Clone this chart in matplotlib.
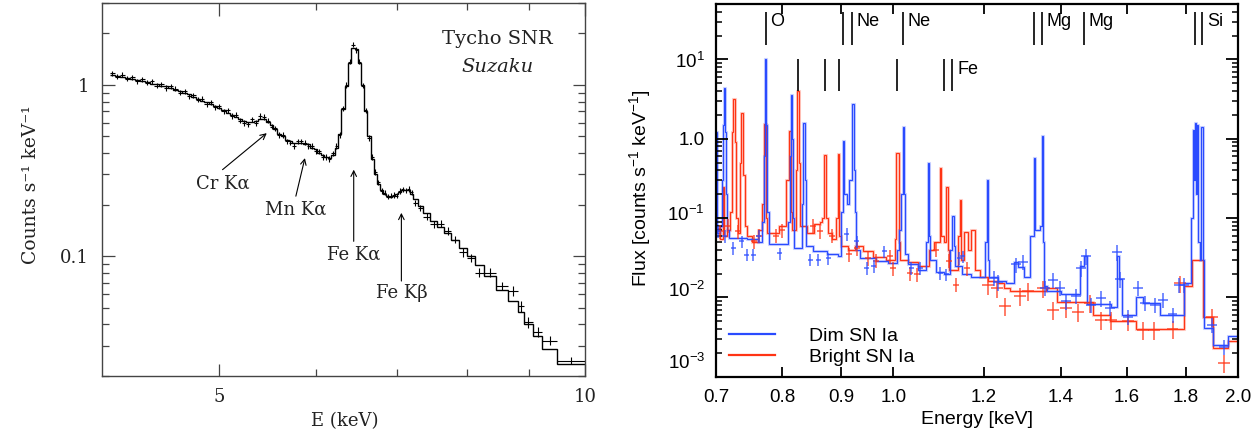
import numpy as np
import matplotlib
matplotlib.use('Agg')
import matplotlib.pyplot as plt
from matplotlib.ticker import FixedLocator, FixedFormatter, NullFormatter, NullLocator, LogLocator
from matplotlib.transforms import ScaledTranslation
from matplotlib.lines import Line2D

plt.rcParams['mathtext.fontset'] = 'custom'
plt.rcParams['mathtext.rm'] = 'Liberation Sans'
plt.rcParams['mathtext.it'] = 'Liberation Sans:italic'
plt.rcParams['mathtext.bf'] = 'Liberation Sans:bold'

# ---------------- Left panel data: Tycho SNR, Suzaku ----------------
left_E = [4.08, 4.12, 4.16, 4.20, 4.24, 4.28, 4.32, 4.36, 4.40, 4.44, 4.48, 4.52,
          4.56, 4.60, 4.64, 4.68, 4.72, 4.76, 4.80, 4.84, 4.88, 4.92, 4.96, 5.00,
          5.04, 5.08, 5.12, 5.16, 5.20, 5.24, 5.28, 5.32, 5.36, 5.40, 5.44, 5.48,
          5.52, 5.56, 5.60, 5.64, 5.68, 5.72, 5.76, 5.80, 5.84, 5.88, 5.92, 5.96,
          6.00, 6.04, 6.08, 6.12, 6.16, 6.20, 6.24, 6.28, 6.32, 6.36, 6.40, 6.44,
          6.48, 6.52, 6.56, 6.60, 6.64, 6.68, 6.72, 6.76, 6.80, 6.84, 6.88, 6.92,
          6.96, 7.00, 7.04, 7.08, 7.12, 7.16, 7.20,
          7.25, 7.32, 7.41, 7.51, 7.61, 7.71, 7.82, 7.94, 8.06, 8.185, 8.35, 8.545,
          8.72, 8.85, 8.98, 9.14, 9.355, 9.745]
left_hw = [0.02] * 79 + [0.03, 0.04, 0.05, 0.05, 0.05, 0.05, 0.06, 0.06, 0.06, 0.065,
                         0.10, 0.095, 0.08, 0.05, 0.08, 0.08, 0.135, 0.255]
left_model = [1.14, 1.13, 1.12, 1.10, 1.09, 1.07, 1.06, 1.04, 1.02, 1.01, 0.99, 0.98,
              0.96, 0.94, 0.92, 0.90, 0.88, 0.85, 0.83, 0.81, 0.79, 0.77, 0.75, 0.73,
              0.71, 0.69, 0.67, 0.65, 0.63, 0.62, 0.61, 0.61, 0.62, 0.63, 0.63, 0.61,
              0.58, 0.55, 0.52, 0.50, 0.48, 0.47, 0.46, 0.46, 0.46, 0.455, 0.45, 0.43,
              0.42, 0.40, 0.39, 0.38, 0.375, 0.39, 0.43, 0.52, 0.72, 0.98, 1.35, 1.65,
              1.62, 1.35, 1.00, 0.70, 0.50, 0.37, 0.30, 0.265, 0.245, 0.232, 0.225, 0.222,
              0.224, 0.23, 0.237, 0.243, 0.245, 0.242, 0.232,
              0.215, 0.195, 0.178, 0.16, 0.147, 0.136, 0.124, 0.111, 0.10, 0.089, 0.077, 0.063,
              0.055, 0.047, 0.040, 0.034, 0.0285, 0.0234]
left_data = [1.17, 1.12, 1.15, 1.09, 1.11, 1.05, 1.08, 1.03, 1.05, 0.99, 1.01, 0.96,
             0.98, 0.95, 0.90, 0.92, 0.86, 0.87, 0.82, 0.83, 0.77, 0.79, 0.74, 0.75,
             0.70, 0.71, 0.66, 0.67, 0.62, 0.60, 0.59, 0.63, 0.60, 0.66, 0.65, 0.62,
             0.57, 0.56, 0.51, 0.51, 0.47, 0.46, 0.44, 0.47, 0.47, 0.46, 0.44, 0.44,
             0.41, 0.41, 0.38, 0.38, 0.37, 0.40, 0.44, 0.51, 0.73, 1.00, 1.37, 1.72,
             1.60, 1.37, 0.99, 0.71, 0.49, 0.38, 0.31, 0.27, 0.24, 0.235, 0.222, 0.226,
             0.228, 0.226, 0.24, 0.246, 0.242, 0.247, 0.236,
             0.205, 0.19, 0.17, 0.153, 0.155, 0.14, 0.125, 0.105, 0.098, 0.08, 0.08, 0.067,
             0.0625, 0.051, 0.041, 0.036, 0.032, 0.0245]
left_relerr = [0.035] * 79 + [0.04, 0.04, 0.045, 0.045, 0.05, 0.05, 0.05, 0.055, 0.055, 0.06,
                              0.06, 0.06, 0.065, 0.07, 0.07, 0.07, 0.06, 0.05]

left_annot_text = ['Cr Kα', 'Mn Kα', 'Fe Kα', 'Fe Kβ']
left_annot_head = [(5.47, 0.523), (5.88, 0.374), (6.45, 0.32), (7.06, 0.179)]
left_annot_tail = [(5.03, 0.32), (5.78, 0.224), (6.45, 0.122), (7.06, 0.0715)]
left_annot_pos = [(5.03, 0.267), (5.78, 0.187), (6.45, 0.102), (7.06, 0.061)]

# ---------------- Right panel data: SN Ia models ----------------
blue_edges = [0.700, 0.7012, 0.706, 0.709, 0.7105, 0.7112, 0.7125, 0.7135, 0.715, 0.718,
              0.745, 0.762, 0.768, 0.7705, 0.7722, 0.7745, 0.776, 0.778, 0.8095, 0.8125,
              0.8138, 0.8162, 0.8175, 0.819, 0.832, 0.8345, 0.8375, 0.839, 0.85, 0.875,
              0.895, 0.9005, 0.903, 0.906, 0.910, 0.914, 0.9195, 0.923, 0.925, 0.928,
              0.935, 0.965, 0.99, 1.008, 1.012, 1.016, 1.0185, 1.022, 1.0245, 1.03,
              1.05, 1.068, 1.071, 1.0745, 1.077, 1.09, 1.108, 1.12, 1.125, 1.1285,
              1.132, 1.148, 1.168, 1.203, 1.206, 1.2095, 1.212, 1.235, 1.255, 1.2735,
              1.285, 1.30, 1.315, 1.326, 1.3305, 1.343, 1.3475, 1.3515, 1.355, 1.362,
              1.40, 1.44, 1.455, 1.466, 1.476, 1.52, 1.55, 1.567, 1.5745, 1.585,
              1.6285, 1.651, 1.708, 1.7925, 1.818, 1.826, 1.829, 1.8335, 1.8375, 1.8425,
              1.8465, 1.852, 1.8575, 1.862, 1.866, 1.9015, 1.9606, 2.0]
blue_flux = [1.2, 0.065, 0.08, 0.3, 1.5, 4.4, 1.2, 0.2, 0.07, 0.056,
             0.054, 0.05, 0.09, 0.6, 10.0, 1.5, 0.12, 0.047, 0.09, 0.6,
             3.6, 1.0, 0.1, 0.042, 0.15, 1.6, 0.3, 0.045, 0.038, 0.035,
             0.033, 0.12, 0.94, 0.2, 0.15, 0.3, 2.75, 0.4, 0.12, 0.04,
             0.031, 0.029, 0.027, 0.04, 0.07, 0.2, 1.42, 0.2, 0.035, 0.026,
             0.022, 0.05, 0.49, 0.06, 0.03, 0.021, 0.02, 0.04, 0.106, 0.045,
             0.025, 0.02, 0.018, 0.05, 0.3, 0.03, 0.018, 0.016, 0.015, 0.028,
             0.024, 0.018, 0.06, 0.58, 0.07, 0.08, 1.09, 0.05, 0.014, 0.012,
             0.011, 0.011, 0.025, 0.033, 0.0083, 0.0083, 0.0075, 0.033, 0.017, 0.006,
             0.0102, 0.0085, 0.006, 0.015, 0.1, 1.3, 0.3, 1.6, 0.2, 1.5,
             0.05, 0.03, 1.4, 0.03, 0.0041, 0.0025, 0.0033]

red_edges = [0.700, 0.705, 0.7095, 0.7115, 0.715, 0.7205, 0.7225, 0.7245, 0.7265, 0.7285,
             0.731, 0.734, 0.7365, 0.7395, 0.7415, 0.745, 0.752, 0.762, 0.768, 0.7705,
             0.7735, 0.776, 0.795, 0.806, 0.811, 0.8135, 0.816, 0.822, 0.8245, 0.8275,
             0.829, 0.84, 0.852, 0.862, 0.867, 0.8705, 0.8735, 0.877, 0.884, 0.891,
             0.894, 0.897, 0.90, 0.912, 0.925, 0.94, 0.96, 0.985, 1.003, 1.006,
             1.0115, 1.014, 1.03, 1.05, 1.075, 1.085, 1.098, 1.1015, 1.106, 1.1115,
             1.115, 1.119, 1.138, 1.143, 1.1465, 1.152, 1.162, 1.168, 1.178, 1.19,
             1.21, 1.235, 1.25, 1.265, 1.30, 1.335, 1.36, 1.389, 1.493, 1.5457,
             1.6285, 1.7925, 1.8215, 1.8634, 1.9015, 1.9606, 2.0]
red_flux = [0.075, 0.055, 0.25, 0.06, 0.07, 0.12, 1.2, 3.2, 0.9, 0.1,
            0.065, 0.5, 2.1, 0.35, 0.08, 0.06, 0.05, 0.07, 0.15, 1.55,
            0.1, 0.065, 0.08, 0.3, 1.24, 0.12, 0.07, 0.4, 4.0, 0.5,
            0.08, 0.065, 0.085, 0.09, 0.1, 0.63, 0.1, 0.065, 0.055, 0.1,
            0.65, 0.06, 0.045, 0.04, 0.045, 0.038, 0.032, 0.03, 0.055, 0.67,
            0.05, 0.03, 0.028, 0.025, 0.04, 0.05, 0.43, 0.06, 0.05, 0.25,
            0.04, 0.022, 0.06, 0.17, 0.03, 0.066, 0.04, 0.07, 0.022, 0.018,
            0.016, 0.015, 0.013, 0.012, 0.012, 0.012, 0.013, 0.0088, 0.006, 0.005,
            0.004, 0.014, 0.03, 0.0057, 0.0023, 0.0028]

blue_pts_E = [0.703, 0.712, 0.7247, 0.737, 0.7445, 0.7546, 0.763, 0.796, 0.8457, 0.860,
              0.877, 0.9105, 0.929, 0.948, 0.961, 0.982, 1.037, 1.055, 1.099, 1.112,
              1.142, 1.15, 1.223, 1.235, 1.28, 1.299, 1.357, 1.379, 1.397, 1.416,
              1.445, 1.459, 1.472, 1.488, 1.517, 1.547, 1.568, 1.578, 1.604, 1.636,
              1.658, 1.691, 1.719, 1.753, 1.776, 1.794, 1.898, 1.943]
blue_pts_F = [0.068, 0.060, 0.042, 0.051, 0.0347, 0.0347, 0.06, 0.036, 0.030, 0.030,
              0.031, 0.063, 0.051, 0.0235, 0.025, 0.038, 0.0235, 0.0235, 0.0204, 0.0195,
              0.0315, 0.033, 0.0176, 0.0155, 0.026, 0.028, 0.0132, 0.0168, 0.0132, 0.0089,
              0.0105, 0.0235, 0.033, 0.0081, 0.0098, 0.0074, 0.037, 0.017, 0.0057, 0.0132,
              0.0086, 0.0081, 0.0094, 0.0061, 0.0145, 0.0145, 0.0045, 0.0024]
red_pts_E = [0.705, 0.717, 0.732, 0.755, 0.763, 0.79, 0.80, 0.8505, 0.862, 0.883,
             0.914, 0.93, 0.95, 0.965, 0.993, 1.0, 1.034, 1.049, 1.09, 1.118,
             1.134, 1.16, 1.21, 1.232, 1.251, 1.29, 1.31, 1.35, 1.379, 1.416,
             1.45, 1.485, 1.517, 1.55, 1.604, 1.653, 1.69, 1.753, 1.78, 1.898, 1.943]
red_pts_F = [0.068, 0.08, 0.068, 0.051, 0.06, 0.06, 0.07, 0.08, 0.068, 0.06,
             0.035, 0.042, 0.031, 0.029, 0.033, 0.0235, 0.0204, 0.0195, 0.04, 0.029,
             0.0145, 0.0235, 0.0145, 0.013, 0.0078, 0.0105, 0.012, 0.013, 0.0069, 0.0074,
             0.0066, 0.0086, 0.0052, 0.0052, 0.005, 0.0039, 0.0039, 0.004, 0.015, 0.0057, 0.0015]

upper_lines = [0.7735, 0.9037, 0.9203, 1.0196, 1.327, 1.348, 1.4658, 1.834, 1.861]
upper_label_E = [0.7735, 0.9203, 1.0196, 1.348, 1.4658, 1.861]
upper_labels = ['O', 'Ne', 'Ne', 'Mg', 'Mg', 'Si']
lower_lines = [0.825, 0.8711, 0.896, 1.0067, 1.107, 1.126]
lower_label_E = [1.126]
lower_labels = ['Fe']

right_xticks = [0.7, 0.8, 0.9, 1.0, 1.2, 1.4, 1.6, 1.8, 2.0]
right_xticklabels = ['0.7', '0.8', '0.9', '1.0', '1.2', '1.4', '1.6', '1.8', '2.0']
right_yticks = [1e-3, 1e-2, 1e-1, 1.0, 10.0]
right_yticklabels = [r'$10^{-3}$', r'$10^{-2}$', r'$10^{-1}$', '1.0', r'$10^{1}$']
legend_labels = ['Dim SN Ia', 'Bright SN Ia']

BLUE = '#2a4bff'
RED = '#ff3414'
SERIF = ['DejaVu Serif', 'DejaVu Sans']
SANS = 'Liberation Sans'

fig = plt.figure(figsize=(12.6, 4.33), dpi=100)
axL = fig.add_axes([0.0807, 0.1323, 0.3836, 0.860])
axR = fig.add_axes([0.5683, 0.130, 0.4143, 0.8607])

# ---------------- Left panel ----------------
E = np.array(left_E)
hw = np.array(left_hw)
edges = np.append(E - hw, E[-1] + hw[-1])
axL.stairs(left_model, edges, baseline=None, color='black', lw=1.0)
d = np.array(left_data)
axL.errorbar(E, d, xerr=hw, yerr=d * np.array(left_relerr), fmt='none',
             ecolor='black', elinewidth=0.8)
axL.set_xscale('log')
axL.set_yscale('log')
axL.set_xlim(4, 10)
axL.set_ylim(0.02, 3)
axL.xaxis.set_major_locator(FixedLocator([5, 10]))
axL.xaxis.set_major_formatter(FixedFormatter(['5', '10']))
axL.xaxis.set_minor_locator(FixedLocator([6, 7, 8, 9]))
axL.xaxis.set_minor_formatter(NullFormatter())
axL.yaxis.set_major_locator(FixedLocator([0.1, 1]))
axL.yaxis.set_major_formatter(FixedFormatter(['0.1', '1']))
axL.yaxis.set_minor_locator(FixedLocator([0.02, 0.03, 0.04, 0.05, 0.06, 0.07, 0.08, 0.09,
                                          0.2, 0.3, 0.4, 0.5, 0.6, 0.7, 0.8, 0.9, 2, 3]))
axL.yaxis.set_minor_formatter(NullFormatter())
axL.tick_params(which='both', direction='in', top=True, right=True, color='#444444',
                width=0.9, labelsize=13, labelfontfamily='DejaVu Serif', labelcolor='#222222')
axL.tick_params(which='major', length=9, pad=9)
axL.tick_params(which='minor', length=5)
for s in axL.spines.values():
    s.set_color('#444444')
    s.set_linewidth(1.0)
axL.set_xlabel('E (keV)', fontsize=13, family=SERIF, color='#222222')
axL.xaxis.set_label_coords(0.503, -0.0975)
axL.set_ylabel('Counts s\u207b\u00b9 keV\u207b\u00b9', fontsize=13.5, family=SERIF, color='#222222')
axL.yaxis.set_label_coords(-0.128, 0.512)

for t, head, tail, pos in zip(left_annot_text, left_annot_head, left_annot_tail, left_annot_pos):
    axL.annotate('', xy=head, xytext=tail,
                 arrowprops=dict(arrowstyle='->', lw=0.8, color='black',
                                 shrinkA=0, shrinkB=0, mutation_scale=10))
    axL.text(pos[0], pos[1], t, ha='center', va='center', fontsize=13, family=SERIF,
             color='#222222')
axL.text(0.818, 0.904, 'Tycho SNR', transform=axL.transAxes, ha='center', va='center',
         fontsize=14, family=SERIF, color='#222222')
axL.text(0.818, 0.829, 'Suzaku', transform=axL.transAxes, ha='center', va='center',
         fontsize=14, family=SERIF, style='italic', color='#222222')

# ---------------- Right panel ----------------
axR.stairs(red_flux, red_edges, baseline=None, color=RED, lw=2.2, alpha=0.22)
axR.stairs(red_flux, red_edges, baseline=None, color=RED, lw=0.9)
axR.stairs(blue_flux, blue_edges, baseline=None, color=BLUE, lw=2.2, alpha=0.22)
axR.stairs(blue_flux, blue_edges, baseline=None, color=BLUE, lw=0.9)

rE = np.array(red_pts_E); rF = np.array(red_pts_F)
bE = np.array(blue_pts_E); bF = np.array(blue_pts_F)
axR.errorbar(rE, rF, xerr=rE * np.where(rE > 1.2, 0.012, 0.006),
             yerr=rF * np.where(rE > 1.2, 0.25, 0.2), fmt='none', ecolor=RED,
             alpha=0.75, elinewidth=1.2)
axR.errorbar(bE, bF, xerr=bE * np.where(bE > 1.2, 0.010, 0.005),
             yerr=bF * np.where(bE > 1.2, 0.22, 0.18), fmt='none', ecolor=BLUE,
             alpha=0.75, elinewidth=1.2)

axR.set_xscale('log')
axR.set_yscale('log')
axR.set_xlim(0.7, 2.0)
axR.set_ylim(1e-3, 50)
axR.xaxis.set_major_locator(FixedLocator(right_xticks))
axR.xaxis.set_major_formatter(FixedFormatter(right_xticklabels))
axR.xaxis.set_minor_locator(NullLocator())
axR.yaxis.set_major_locator(FixedLocator(right_yticks))
axR.yaxis.set_major_formatter(FixedFormatter(right_yticklabels))
axR.yaxis.set_minor_locator(LogLocator(base=10, subs=np.arange(2, 10), numticks=30))
axR.yaxis.set_minor_formatter(NullFormatter())
axR.tick_params(which='both', direction='in', top=True, right=True, color='black',
                width=1.3, labelsize=13.5, labelfontfamily=SANS)
axR.tick_params(which='major', length=8.5, pad=8)
axR.tick_params(axis='x', which='major', length=7, pad=9)
axR.tick_params(which='minor', length=4.5, width=1.1)
for s in axR.spines.values():
    s.set_linewidth(1.6)
axR.set_xlabel('Energy [keV]', fontsize=14, family=SANS)
axR.xaxis.set_label_coords(0.5, -0.092)
axR.set_ylabel('Flux [counts s$^{-1}$ keV$^{-1}$]', fontsize=14, family=SANS)
axR.yaxis.set_label_coords(-0.121, 0.506)

xtr = axR.get_xaxis_transform()
axR.vlines(upper_lines, 0.89, 0.978, transform=xtr, color='black', lw=1.2)
axR.vlines(lower_lines, 0.767, 0.852, transform=xtr, color='black', lw=1.2)
for e, lab in zip(upper_label_E, upper_labels):
    axR.annotate(lab, xy=(e, 0.9525), xycoords=xtr, xytext=(3.5, 0),
                 textcoords='offset points', ha='left', va='center', fontsize=13, family=SANS)
for e, lab in zip(lower_label_E, lower_labels):
    axR.annotate(lab, xy=(e, 0.823), xycoords=xtr, xytext=(3.5, 0),
                 textcoords='offset points', ha='left', va='center', fontsize=13, family=SANS)

handles = [Line2D([], [], color=BLUE, lw=1.6), Line2D([], [], color=RED, lw=1.6)]
axR.legend(handles, legend_labels, loc='lower left', bbox_to_anchor=(0.0255, 0.03),
           frameon=False, prop={'family': SANS, 'size': 14}, handlelength=2.37,
           handletextpad=1.7, labelspacing=0.15, borderpad=0, borderaxespad=0)

offsets_px = [16, 8, 5, 0, 0]
for lab, off in zip(axR.get_yticklabels(), offsets_px):
    lab.set_transform(lab.get_transform() + ScaledTranslation(0, off / 100.0, fig.dpi_scale_trans))

fig.savefig('out.png', dpi=100)
